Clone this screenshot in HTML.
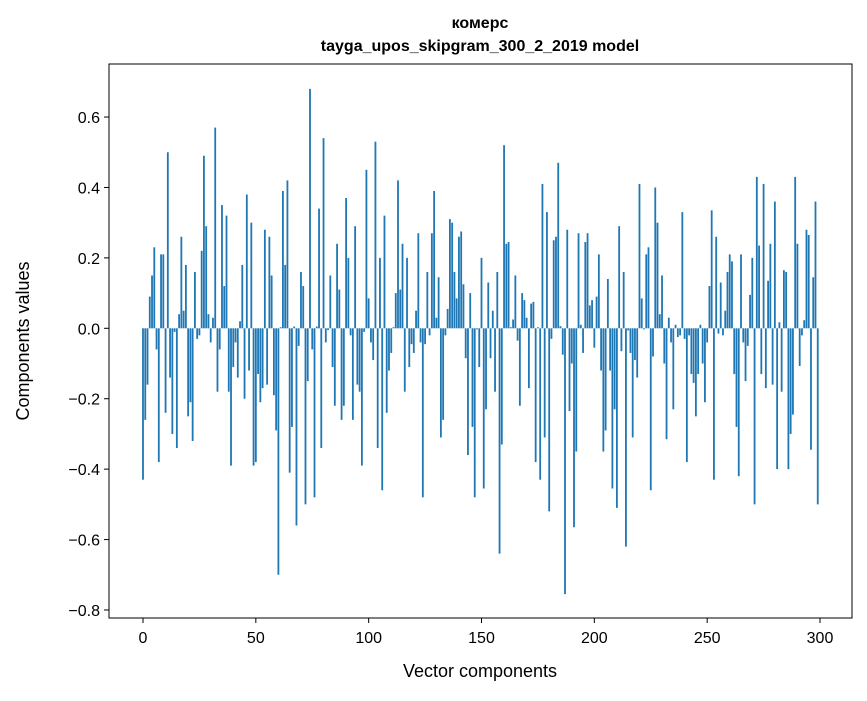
<!DOCTYPE html>
<html><head><meta charset="utf-8"><style>
body{margin:0;background:#fff;}
svg text{font-family:"Liberation Sans","DejaVu Sans",sans-serif;fill:#000;}
</style></head><body>
<svg id="chart" width="867" height="696" viewBox="0 0 867 696" xmlns="http://www.w3.org/2000/svg">
<rect width="867" height="696" fill="#fff"/>
<text x="480" y="28" text-anchor="middle" font-size="16" font-weight="bold">комерс</text>
<text x="480" y="51" text-anchor="middle" font-size="16" font-weight="bold">tayga_upos_skipgram_300_2_2019 model</text>
<g id="bars"></g>
<g id="axes"></g>
<text x="480" y="677" text-anchor="middle" font-size="18">Vector components</text>
<text transform="translate(29,341) rotate(-90)" text-anchor="middle" font-size="18">Components values</text>
</svg>
<script>
const values = [-0.43,-0.26,-0.16,0.09,0.15,0.23,-0.06,-0.38,0.21,0.21,
-0.24,0.50,-0.14,-0.30,-0.01,-0.34,0.04,0.26,0.05,0.18,
-0.25,-0.21,-0.32,0.16,-0.03,-0.02,0.22,0.49,0.29,0.04,
-0.04,0.03,0.57,-0.18,-0.06,0.35,0.12,0.32,-0.18,-0.39,
-0.11,-0.04,-0.14,0.02,0.18,-0.20,0.38,-0.12,0.30,-0.39,
-0.38,-0.13,-0.21,-0.17,0.28,-0.16,0.26,0.15,-0.19,-0.29,
-0.70,0.003,0.39,0.18,0.42,-0.41,-0.28,0.005,-0.56,-0.05,
0.16,0.12,-0.50,-0.15,0.68,-0.06,-0.48,0.005,0.34,-0.34,
0.54,-0.04,-0.005,0.15,-0.11,-0.22,0.24,0.11,-0.26,-0.22,
0.37,0.20,-0.02,-0.26,0.29,-0.16,-0.18,-0.39,-0.01,0.45,
0.085,-0.04,-0.09,0.53,-0.34,0.20,-0.46,0.32,-0.24,-0.12,
-0.07,0.003,0.10,0.42,0.11,0.24,-0.18,0.20,-0.11,-0.045,
-0.07,0.05,0.27,-0.04,-0.48,-0.045,0.16,-0.02,0.27,0.39,
0.03,0.145,-0.31,-0.26,-0.02,0.055,0.31,0.30,0.16,0.085,
0.26,0.275,0.125,-0.085,-0.36,0.10,-0.28,-0.48,-0.003,-0.11,
0.20,-0.455,-0.23,0.13,-0.085,0.05,-0.18,0.16,-0.64,-0.33,
0.52,0.24,0.245,0.003,0.025,0.15,-0.035,-0.22,0.10,0.08,
0.03,-0.17,0.07,0.075,-0.38,0.003,-0.43,0.41,-0.31,0.33,
-0.52,-0.03,0.25,0.26,0.47,0.006,-0.075,-0.755,0.28,-0.235,
-0.10,-0.565,-0.35,0.27,0.01,-0.07,0.245,0.27,0.065,0.08,
-0.055,0.09,0.21,-0.12,-0.35,-0.29,0.14,-0.12,-0.455,-0.23,
-0.51,0.29,-0.065,0.16,-0.62,-0.006,-0.07,-0.31,-0.09,-0.14,
0.41,0.085,-0.003,0.21,0.23,-0.46,-0.08,0.40,0.30,0.04,
0.15,-0.10,-0.315,0.03,-0.04,-0.23,0.01,-0.025,-0.02,0.33,
-0.03,-0.38,-0.02,-0.13,-0.155,-0.25,-0.13,0.01,-0.10,-0.21,
-0.04,0.12,0.335,-0.43,0.26,-0.015,0.13,-0.02,0.05,0.16,
0.21,0.19,-0.13,-0.28,-0.42,0.21,-0.04,-0.15,-0.05,0.095,
0.20,-0.50,0.43,0.235,-0.13,0.41,-0.17,0.135,0.24,-0.16,
0.36,-0.40,0.017,-0.18,0.165,0.16,-0.40,-0.30,-0.245,0.43,
0.24,-0.107,-0.02,0.023,0.28,0.265,-0.345,0.145,0.36,-0.50];
const xTicks = [0,50,100,150,200,250,300];
const yTicks = [-0.8,-0.6,-0.4,-0.2,0.0,0.2,0.4,0.6];
const yTickLabels = ["−0.8","−0.6","−0.4","−0.2","0.0","0.2","0.4","0.6"];

const L=109,R=852,T=64,B=618;
const xs = v => 143 + v*(820-143)/300;
const ys = v => 328.3 - v*352.1;
const NS="http://www.w3.org/2000/svg";
const bars=document.getElementById('bars');
values.forEach((v,i)=>{
  const r=document.createElementNS(NS,'rect');
  const w=(xs(0.8)-xs(0));
  const y0=ys(0), y1=ys(v);
  r.setAttribute('x',xs(i)-w/2);
  r.setAttribute('y',Math.min(y0,y1));
  r.setAttribute('width',w);
  r.setAttribute('height',Math.max(0.3,Math.abs(y1-y0)));
  r.setAttribute('fill','#1f77b4');
  
  
  bars.appendChild(r);
});
const axes=document.getElementById('axes');
const frame=document.createElementNS(NS,'rect');
frame.setAttribute('x',L);frame.setAttribute('y',T);frame.setAttribute('width',R-L);frame.setAttribute('height',B-T);
frame.setAttribute('fill','none');frame.setAttribute('stroke','#000');frame.setAttribute('stroke-width','1');


axes.appendChild(frame);
xTicks.forEach(t=>{
  const x=xs(t);
  const l=document.createElementNS(NS,'line');
  l.setAttribute('x1',x);l.setAttribute('x2',x);l.setAttribute('y1',B);l.setAttribute('y2',B+5);l.setAttribute('stroke','#000');
  
  
  axes.appendChild(l);
  const tx=document.createElementNS(NS,'text');
  tx.setAttribute('x',x);tx.setAttribute('y',B+25);tx.setAttribute('text-anchor','middle');tx.setAttribute('font-size','16');
  tx.textContent=t;
  
  
  axes.appendChild(tx);
});
yTicks.forEach((t,i)=>{
  const y=ys(t);
  const l=document.createElementNS(NS,'line');
  l.setAttribute('x1',L-5);l.setAttribute('x2',L);l.setAttribute('y1',y);l.setAttribute('y2',y);l.setAttribute('stroke','#000');
  
  
  axes.appendChild(l);
  const tx=document.createElementNS(NS,'text');
  tx.setAttribute('x',L-9);tx.setAttribute('y',y+6);tx.setAttribute('text-anchor','end');tx.setAttribute('font-size','16');
  tx.textContent=yTickLabels[i];
  
  
  axes.appendChild(tx);
});
</script>
</body></html>
